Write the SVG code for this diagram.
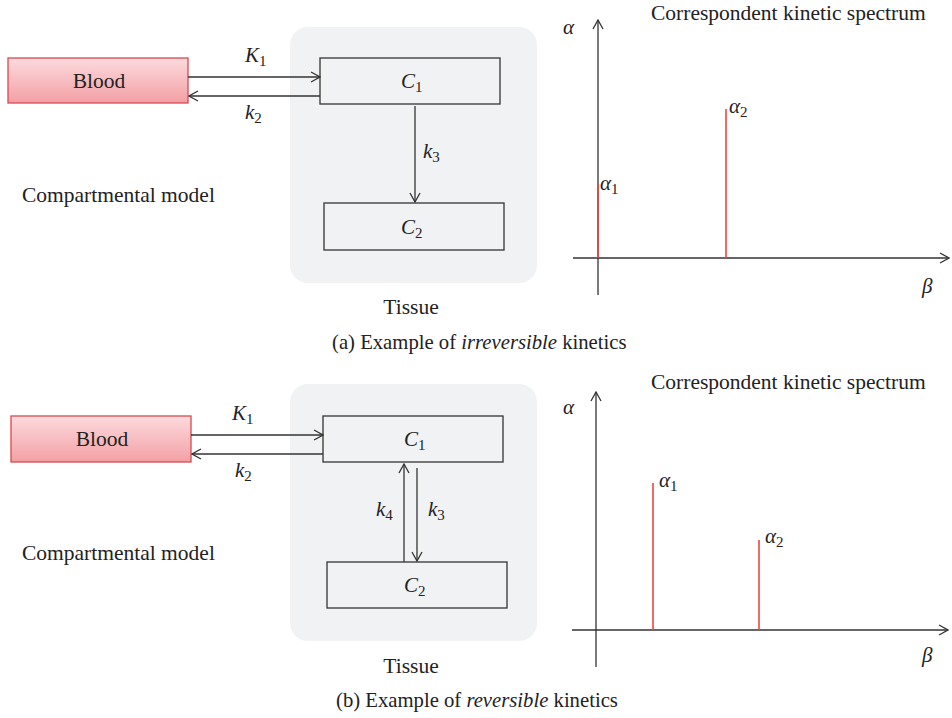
<svg xmlns="http://www.w3.org/2000/svg" width="952" height="718" viewBox="0 0 952 718">
<defs>
<linearGradient id="blood" x1="0" y1="0" x2="0" y2="1">
<stop offset="0" stop-color="#fcdadd"/>
<stop offset="1" stop-color="#f3a0a5"/>
</linearGradient>
<marker id="arr" viewBox="0 0 12 12" refX="11" refY="6" markerWidth="12" markerHeight="12" markerUnits="userSpaceOnUse" orient="auto">
<path d="M2,1 L11,6 L2,11" fill="none" stroke="#333" stroke-width="1.3"/>
</marker>
</defs>
<style>
text{font-family:"Liberation Serif","DejaVu Serif",serif;fill:#222;}
.lbl{font-size:21.5px;}
.cap{font-size:20.7px;}
.var{font-size:21px;font-style:italic;}
.sub{font-size:15px;font-style:normal;}
.box{fill:none;stroke:#333;stroke-width:1.3;}
.tissue{fill:#f1f2f4;stroke:none;}
.blood{fill:url(#blood);stroke:#d64a50;stroke-width:1.3;}
.con{stroke:#333;stroke-width:1.3;fill:none;}
.axis{stroke:#333;stroke-width:1.3;fill:none;}
.peak{stroke:#e9473f;stroke-width:1.6;}
</style>

<!-- Panel (a) -->
<g id="tissue-a"><rect class="tissue" x="290" y="27" width="247" height="256" rx="18"/>
<text class="lbl" x="411" y="314" text-anchor="middle">Tissue</text></g>
<g id="blood-a"><rect class="blood" x="8" y="58" width="180" height="45"/>
<text class="lbl" x="99" y="88" text-anchor="middle">Blood</text></g>
<g id="c1-a"><rect class="box" x="320" y="58" width="180" height="46"/>
<text class="var" x="401" y="88">C<tspan class="sub" dy="4">1</tspan></text></g>
<g id="c2-a"><rect class="box" x="324" y="203" width="180" height="47"/>
<text class="var" x="401" y="234">C<tspan class="sub" dy="4">2</tspan></text></g>
<g id="connectors-a">
<line class="con" x1="188" y1="77" x2="320" y2="77" marker-end="url(#arr)"/>
<line class="con" x1="320" y1="96" x2="189" y2="96" marker-end="url(#arr)"/>
<line class="con" x1="415" y1="106" x2="415" y2="202" marker-end="url(#arr)"/>
<text class="var" x="245" y="62">K<tspan class="sub" dy="4">1</tspan></text>
<text class="var" x="245" y="119">k<tspan class="sub" dy="4">2</tspan></text>
<text class="var" x="423" y="158">k<tspan class="sub" dy="4">3</tspan></text>
</g>
<text class="lbl" x="22" y="202">Compartmental model</text>

<g id="spectrum-a">
<text class="lbl" x="651" y="20">Correspondent kinetic spectrum</text>
<line class="axis" x1="598" y1="295" x2="598" y2="20" marker-end="url(#arr)"/>
<line class="axis" x1="573" y1="258" x2="949" y2="258" marker-end="url(#arr)"/>
<line class="peak" x1="598" y1="183" x2="598" y2="258"/>
<line class="peak" x1="726" y1="109" x2="726" y2="258"/>
<text class="var" x="563" y="34">α</text>
<text class="var" x="922" y="293">β</text>
<text class="var" x="600" y="190">α<tspan class="sub" dy="4">1</tspan></text>
<text class="var" x="729" y="113">α<tspan class="sub" dy="4">2</tspan></text>
</g>
<text class="cap" x="332" y="349">(a)  Example of <tspan font-style="italic">irreversible</tspan> kinetics</text>

<!-- Panel (b) -->
<g id="tissue-b"><rect class="tissue" x="290" y="384" width="247" height="257" rx="18"/>
<text class="lbl" x="411" y="673" text-anchor="middle">Tissue</text></g>
<g id="blood-b"><rect class="blood" x="11" y="416" width="180" height="46"/>
<text class="lbl" x="102" y="446" text-anchor="middle">Blood</text></g>
<g id="c1-b"><rect class="box" x="323" y="416" width="180" height="46"/>
<text class="var" x="404" y="446">C<tspan class="sub" dy="4">1</tspan></text></g>
<g id="c2-b"><rect class="box" x="327" y="562" width="180" height="46"/>
<text class="var" x="404" y="592">C<tspan class="sub" dy="4">2</tspan></text></g>
<g id="connectors-b">
<line class="con" x1="191" y1="435" x2="323" y2="435" marker-end="url(#arr)"/>
<line class="con" x1="323" y1="454" x2="192" y2="454" marker-end="url(#arr)"/>
<line class="con" x1="404" y1="562" x2="404" y2="464" marker-end="url(#arr)"/>
<line class="con" x1="417" y1="468" x2="417" y2="561" marker-end="url(#arr)"/>
<text class="var" x="232" y="420">K<tspan class="sub" dy="4">1</tspan></text>
<text class="var" x="235" y="477">k<tspan class="sub" dy="4">2</tspan></text>
<text class="var" x="376" y="516">k<tspan class="sub" dy="4">4</tspan></text>
<text class="var" x="428" y="516">k<tspan class="sub" dy="4">3</tspan></text>
</g>
<text class="lbl" x="22" y="560">Compartmental model</text>

<g id="spectrum-b">
<text class="lbl" x="651" y="389">Correspondent kinetic spectrum</text>
<line class="axis" x1="596" y1="667" x2="596" y2="392" marker-end="url(#arr)"/>
<line class="axis" x1="572" y1="630" x2="948" y2="630" marker-end="url(#arr)"/>
<line class="peak" x1="653" y1="483" x2="653" y2="630"/>
<line class="peak" x1="759" y1="540" x2="759" y2="630"/>
<text class="var" x="563" y="414">α</text>
<text class="var" x="922" y="662">β</text>
<text class="var" x="659" y="487">α<tspan class="sub" dy="4">1</tspan></text>
<text class="var" x="765" y="543">α<tspan class="sub" dy="4">2</tspan></text>
</g>
<text class="cap" x="336" y="707">(b)  Example of <tspan font-style="italic">reversible</tspan> kinetics</text>
</svg>
